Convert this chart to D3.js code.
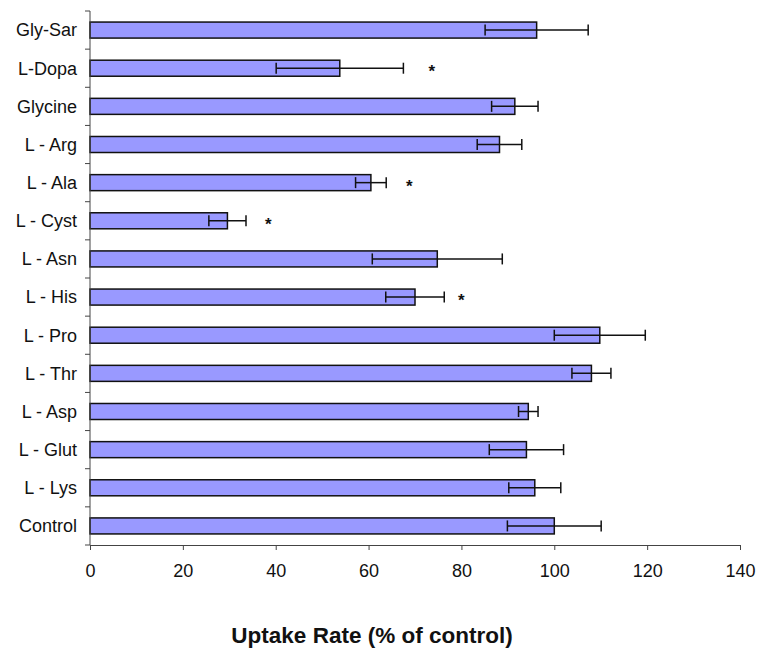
<!DOCTYPE html>
<html>
<head>
<meta charset="utf-8">
<script src="https://d3js.org/d3.v7.min.js"></script>
<style>
  body { margin: 0; background: #fff; }
  svg { font-family: "Liberation Sans", Arial, sans-serif; }
</style>
</head>
<body>
<svg width="758" height="650"></svg>
<script>
const categories = ["Gly-Sar", "L-Dopa", "Glycine", "L - Arg", "L - Ala", "L - Cyst", "L - Asn",
                    "L - His", "L - Pro", "L - Thr", "L - Asp", "L - Glut", "L - Lys", "Control"];
const uptake = [96.2, 53.8, 91.5, 88.2, 60.5, 29.6, 74.8, 70.0, 109.8, 108.0, 94.4, 94.0, 95.8, 100];
const errors = [11.1, 13.7, 5.0, 4.8, 3.3, 4.0, 14.0, 6.3, 9.8, 4.2, 2.1, 8.0, 5.6, 10.1];
// significance stars: category and x position (in % units)
const starCats = ["L-Dopa", "L - Ala", "L - Cyst", "L - His"];
const starPos = [73.6, 68.8, 38.4, 80.0];
const xTicks = [0, 20, 40, 60, 80, 100, 120, 140];

const svg = d3.select("svg");
const plotLeft = 90, plotRight = 740, plotTop = 11, plotBottom = 545;

const x = d3.scaleLinear().domain([0, 140]).range([plotLeft, plotRight]);
const y = d3.scaleBand().domain(categories).range([plotTop, plotBottom])
  .paddingInner(0.58).paddingOuter(0.29);
const step = y.step();
const bh = y.bandwidth();

// bars
svg.append("g").selectAll("rect")
  .data(categories)
  .join("rect")
  .attr("x", x(0))
  .attr("y", d => y(d))
  .attr("width", (d, i) => x(uptake[i]) - x(0))
  .attr("height", bh)
  .attr("fill", "#9999ff")
  .attr("stroke", "#111")
  .attr("stroke-width", 1.5);

// error bars
const eb = svg.append("g").attr("stroke", "#111").attr("stroke-width", 1.5);
categories.forEach((c, i) => {
  const cy = y(c) + bh / 2;
  const lo = x(uptake[i] - errors[i]), hi = x(uptake[i] + errors[i]);
  eb.append("line").attr("x1", lo).attr("x2", hi).attr("y1", cy).attr("y2", cy);
  eb.append("line").attr("x1", lo).attr("x2", lo).attr("y1", cy - 5.5).attr("y2", cy + 5.5);
  eb.append("line").attr("x1", hi).attr("x2", hi).attr("y1", cy - 5.5).attr("y2", cy + 5.5);
});

// stars
svg.append("g").selectAll("text")
  .data(starCats)
  .join("text")
  .attr("x", (d, i) => x(starPos[i]))
  .attr("y", d => y(d) + bh / 2 + 9)
  .attr("text-anchor", "middle")
  .attr("font-size", 17)
  .attr("font-weight", "bold")
  .attr("fill", "#111")
  .text("*");

// x axis
const xAxis = svg.append("g")
  .attr("transform", `translate(0,${plotBottom})`)
  .call(d3.axisBottom(x).tickValues(xTicks).tickSize(5).tickSizeOuter(0).tickPadding(14));
xAxis.select(".domain").attr("stroke", "#444");
xAxis.selectAll(".tick line").attr("stroke", "#444");
xAxis.selectAll(".tick text").attr("font-size", 18).attr("fill", "#111")
  .attr("font-family", "'Liberation Sans', Arial, sans-serif");

// y axis line and boundary ticks
const yAxis = svg.append("g").attr("stroke", "#444");
yAxis.append("line").attr("x1", plotLeft).attr("x2", plotLeft).attr("y1", plotTop).attr("y2", plotBottom);
d3.range(categories.length + 1).forEach(k => {
  const ty = plotTop + k * step;
  yAxis.append("line").attr("x1", plotLeft - 5).attr("x2", plotLeft).attr("y1", ty).attr("y2", ty);
});

// category labels
svg.append("g").selectAll("text")
  .data(categories)
  .join("text")
  .attr("x", 77)
  .attr("y", d => y(d) + bh / 2)
  .attr("dy", "0.35em")
  .attr("text-anchor", "end")
  .attr("font-size", 18)
  .attr("fill", "#111")
  .text(d => d);

// axis title
svg.append("text")
  .attr("x", 372)
  .attr("y", 643)
  .attr("text-anchor", "middle")
  .attr("font-size", 22.5)
  .attr("font-weight", "bold")
  .attr("fill", "#111")
  .text("Uptake Rate (% of control)");
</script>
</body>
</html>
